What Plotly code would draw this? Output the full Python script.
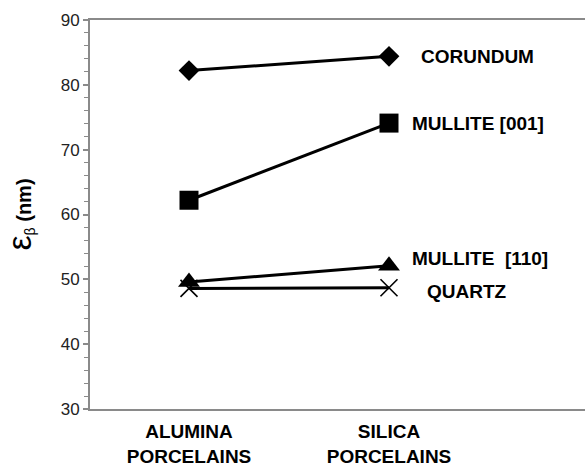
import plotly.graph_objects as go

categories = ["ALUMINA<br>PORCELAINS", "SILICA<br>PORCELAINS"]
series_names = ["CORUNDUM", "MULLITE [001]", "MULLITE  [110]", "QUARTZ"]
corundum = [82.2, 84.4]
mullite_001 = [62.2, 74.1]
mullite_110 = [49.6, 52.1]
quartz = [48.6, 48.7]
y_ticks = [30, 40, 50, 60, 70, 80, 90]

series_values = [corundum, mullite_001, mullite_110, quartz]
markers = [
    dict(symbol="diamond", size=16, color="black"),
    dict(symbol="square", size=19, color="black"),
    dict(symbol="triangle-up", size=19, color="black"),
    dict(symbol="x-thin", size=17, color="black", line=dict(width=1.6, color="black")),
]
label_shift = [(30, 0), (21, 0), (21, 7), (36, -4)]

xpos = list(range(len(categories)))
fig = go.Figure()
for name, vals, mk in zip(series_names, series_values, markers):
    fig.add_trace(go.Scatter(x=xpos, y=vals, mode="lines+markers", name=name,
                             line=dict(color="black", width=3), marker=mk,
                             showlegend=False, cliponaxis=False))

for name, vals, (dx, dy) in zip(series_names, series_values, label_shift):
    fig.add_annotation(x=xpos[-1], y=vals[-1], text="<b>%s</b>" % name, showarrow=False,
                       xanchor="left", yanchor="middle", xshift=dx, yshift=dy,
                       font=dict(family="Liberation Sans, Arial", size=19, color="black"))

axis_gray = "#8a8a8a"
fig.update_layout(
    width=585, height=465,
    margin=dict(l=90, r=0, t=20, b=56),
    paper_bgcolor="white", plot_bgcolor="white",
    font=dict(family="Liberation Sans, Arial", color="black"),
    xaxis=dict(range=[-0.495, 1.98], tickvals=xpos, ticktext=["<b>%s</b>" % c for c in categories],
               showgrid=False, zeroline=False, showline=True, linecolor=axis_gray, linewidth=2,
               mirror=True, ticks="", ticklabelstandoff=4, automargin=False,
               tickfont=dict(size=19, color="black")),
    yaxis=dict(range=[30, 90], tickvals=y_ticks, showgrid=False, zeroline=False,
               showline=True, linecolor=axis_gray, linewidth=2, ticks="outside", ticklen=5,
               tickwidth=1.5, tickcolor=axis_gray, tickfont=dict(size=17, color="#222"),
               automargin=False,
               minor=dict(dtick=2, ticks="outside", ticklen=4, tickcolor=axis_gray, tickwidth=1),
               title=dict(text='<span style="font-size:34px">ε</span><sub>β</sub> <b>(nm)</b>',
                          font=dict(size=20, color="black"), standoff=26)),
)
fig.write_html("out.html")
